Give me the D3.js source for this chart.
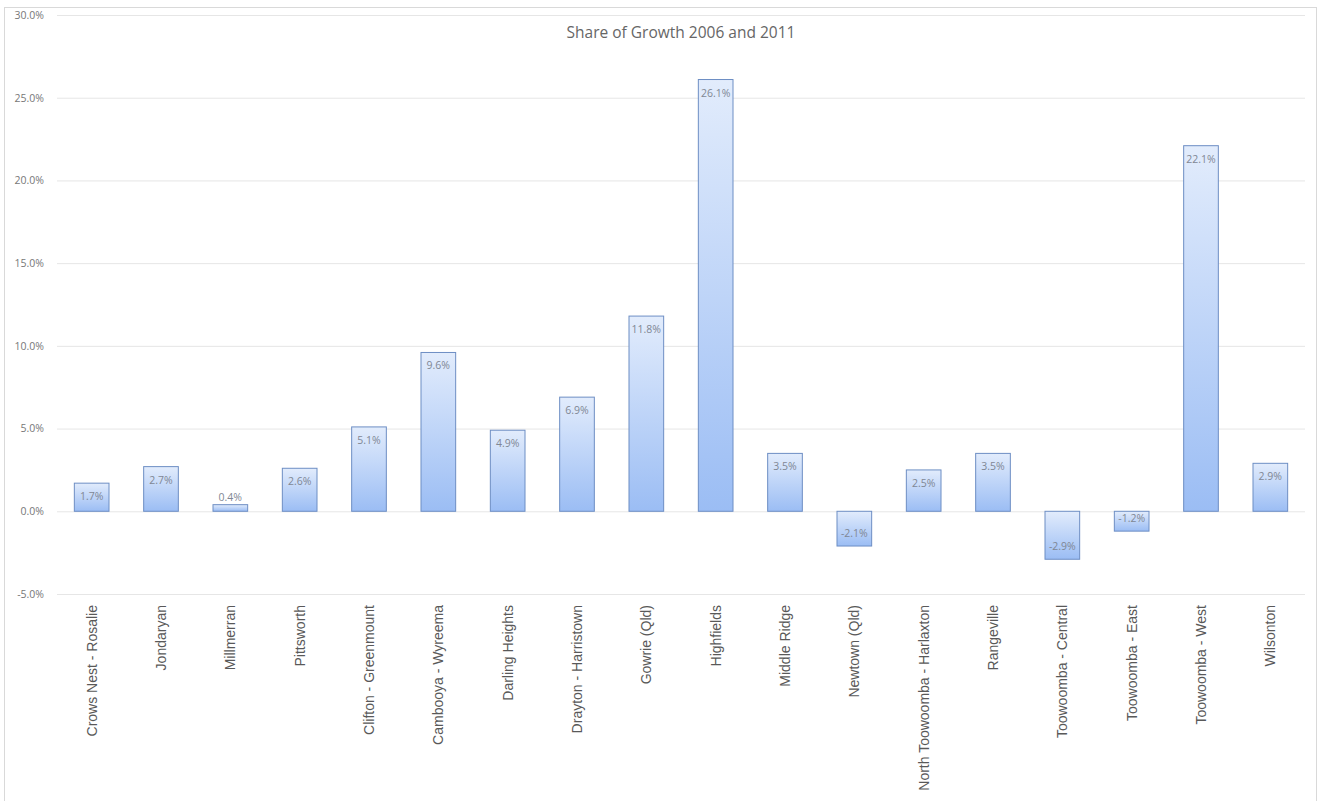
<!DOCTYPE html>
<html>
<head>
<meta charset="utf-8">
<script src="https://cdn.jsdelivr.net/npm/d3@7"></script>
<style>
  body { margin: 0; background: #fff; }
  svg { display: block; }
</style>
</head>
<body>
<script>
const categories = [
  "Crows Nest - Rosalie", "Jondaryan", "Millmerran", "Pittsworth",
  "Clifton - Greenmount", "Cambooya - Wyreema", "Darling Heights",
  "Drayton - Harristown", "Gowrie (Qld)", "Highfields", "Middle Ridge",
  "Newtown (Qld)", "North Toowoomba - Harlaxton", "Rangeville",
  "Toowoomba - Central", "Toowoomba - East", "Toowoomba - West", "Wilsonton"
];
const shares = [1.7, 2.7, 0.4, 2.6, 5.1, 9.6, 4.9, 6.9, 11.8, 26.1, 3.5, -2.1, 2.5, 3.5, -2.9, -1.2, 22.1, 2.9];
const yTicks = [-5, 0, 5, 10, 15, 20, 25, 30];
const title = "Share of Growth 2006 and 2011";

const width = 1322;
const height = 801;
const plotLeft = 57, plotRight = 1305, plotTop = 15, plotBottom = 594;

const svg = d3.select("body").append("svg")
  .attr("width", width)
  .attr("height", height);

// chart frame
svg.append("rect")
  .attr("x", 4.5).attr("y", 7.5)
  .attr("width", 1312).attr("height", 800)
  .attr("fill", "#fff")
  .attr("stroke", "#d9d9d9");

const grad = svg.append("defs").append("linearGradient")
  .attr("id", "barFill")
  .attr("x1", 0).attr("y1", 0).attr("x2", 0).attr("y2", 1);
grad.append("stop").attr("offset", "0%").attr("stop-color", "#e2ecfc");
grad.append("stop").attr("offset", "100%").attr("stop-color", "#9bbdf4");

const x = d3.scaleBand()
  .domain(categories)
  .range([plotLeft, plotRight])
  .paddingInner(0.5)
  .paddingOuter(0.25);

const y = d3.scaleLinear()
  .domain([-5, 30])
  .range([plotBottom, plotTop]);

const yAxis = d3.axisLeft(y)
  .tickValues(yTicks)
  .tickSize(-(plotRight - plotLeft))
  .tickFormat(d => d.toFixed(1) + "%");

svg.append("g")
  .attr("transform", `translate(${plotLeft}, 0)`)
  .call(yAxis)
  .call(g => g.select(".domain").remove())
  .call(g => g.selectAll(".tick line").attr("stroke", "#e6e6e6"))
  .call(g => g.selectAll(".tick text")
    .attr("x", -13)
    .attr("fill", "#777")
    .style("font-family", "'Open Sans', sans-serif")
    .style("font-size", "10.5px"));

svg.append("text")
  .attr("x", 681).attr("y", 38)
  .attr("text-anchor", "middle")
  .attr("fill", "#666")
  .style("font-family", "'Open Sans', sans-serif")
  .style("font-size", "15.5px")
  .text(title);

svg.selectAll("rect.bar")
  .data(shares)
  .enter()
  .append("rect")
  .attr("class", "bar")
  .attr("x", (d, i) => x(categories[i]))
  .attr("y", d => y(Math.max(0, d)))
  .attr("width", x.bandwidth())
  .attr("height", d => Math.abs(y(d) - y(0)))
  .attr("fill", "url(#barFill)")
  .attr("stroke", "#6d8ec4")
  .attr("stroke-width", 1);

// labels sit inside the bar end, or just above a bar too short to hold one
svg.selectAll("text.value")
  .data(shares)
  .enter()
  .append("text")
  .attr("class", "value")
  .attr("x", (d, i) => x(categories[i]) + x.bandwidth() / 2)
  .attr("y", d => {
    if (d < 0) return y(d) - 9;
    if (y(0) - y(d) < 20) return y(d) - 4;
    return y(d) + 17;
  })
  .attr("text-anchor", "middle")
  .attr("fill", "#7f8794")
  .style("font-family", "'Open Sans', sans-serif")
  .style("font-size", "10.5px")
  .text(d => d.toFixed(1) + "%");

// category labels
svg.selectAll("text.cat")
  .data(categories)
  .enter()
  .append("text")
  .attr("class", "cat")
  .attr("transform", d => `translate(${x(d) + x.bandwidth() / 2 + 5}, 605) rotate(-90)`)
  .attr("text-anchor", "end")
  .attr("fill", "#595959")
  .style("font-family", "'Liberation Sans', Arial, sans-serif")
  .style("font-size", "14px")
  .text(d => d);
</script>
</body>
</html>
